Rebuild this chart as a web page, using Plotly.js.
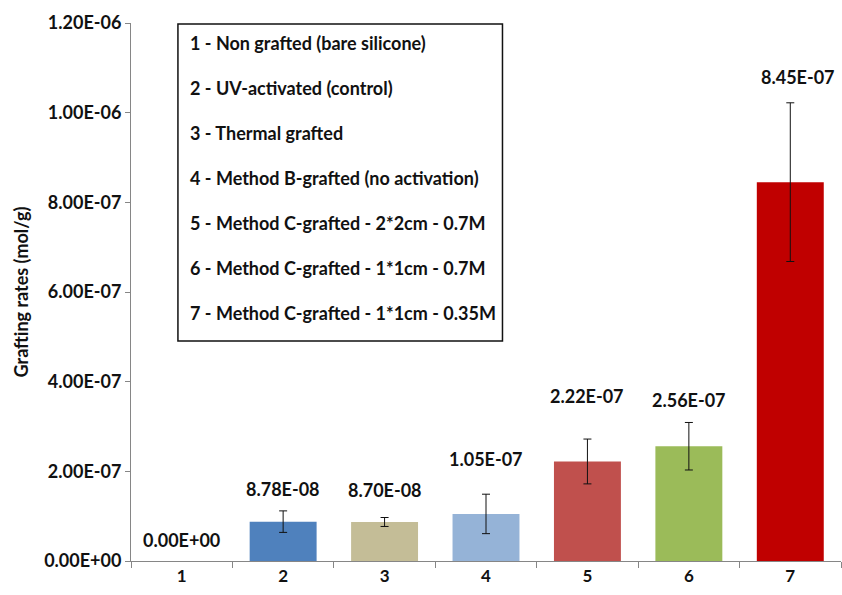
<!DOCTYPE html>
<html>
<head>
<meta charset="utf-8">
<script src="https://cdn.plot.ly/plotly-3.0.1.min.js"></script>
<style>html,body{margin:0;padding:0;background:#fff;}#chart{width:842px;height:595px;}</style>
</head>
<body>
<div id="chart"></div>
<script>
// ---- data ----
const categories = ['1', '2', '3', '4', '5', '6', '7'];
const values = [0, 8.78e-8, 8.70e-8, 1.05e-7, 2.22e-7, 2.56e-7, 8.45e-7];
const errors = [null, 2.4e-8, 1.0e-8, 4.4e-8, 5.0e-8, 5.3e-8, 1.77e-7];
const descriptions = [
  '1 - Non grafted (bare silicone)',
  '2 - UV-activated (control)',
  '3 - Thermal grafted',
  '4 - Method B-grafted (no activation)',
  '5 - Method C-grafted - 2*2cm - 0.7M',
  '6 - Method C-grafted - 1*1cm - 0.7M',
  '7 - Method C-grafted - 1*1cm - 0.35M'
];
const yTickVals = [0, 2e-7, 4e-7, 6e-7, 8e-7, 1e-6, 1.2e-6];

// ---- style ----
const barColors = ['#4F81BD', '#4F81BD', '#C4BD97', '#95B3D7', '#C0504D', '#9BBB59', '#C00000'];
const labelShift = [21, 22, 28, 35, 43, 22, 26];
const labelXShift = [0, 0, 0, 0, 0, 0, 8];
const FONT = 'Lato, "Open Sans", sans-serif';

function fmtE(v) {
  let s = v.toExponential(2).toUpperCase();
  return s.replace(/E([+-])(\d)$/, 'E$10$2');
}

const trace = {
  type: 'bar',
  x: categories,
  y: values,
  marker: { color: barColors, line: { width: 0 } },
  width: 0.66,
  error_y: { type: 'data', array: errors.map(e => (e === null ? NaN : e)), visible: true, color: '#111', thickness: 1, width: 4 },
  hoverinfo: 'none'
};

const annotations = [];
categories.forEach((c, i) => {
  annotations.push({
    x: i, xref: 'x', y: values[i] + (errors[i] || 0), yref: 'y',
    text: '<b>' + fmtE(values[i]) + '</b>', showarrow: false,
    yanchor: 'middle', yshift: labelShift[i], xshift: labelXShift[i],
    font: { family: FONT, size: 18, color: '#111' }
  });
});
// description box lines
const boxTop = 0.963, boxStep = 45 / 538;
descriptions.forEach((d, i) => {
  annotations.push({
    x: (188 - 131) / 711, xref: 'paper', xanchor: 'left',
    y: boxTop - i * boxStep, yref: 'paper', yanchor: 'middle',
    text: '<b>' + d + '</b>', showarrow: false,
    font: { family: FONT, size: 18, color: '#111' }
  });
});

const layout = {
  width: 842, height: 595,
  margin: { l: 131, r: 1, t: 23, b: 34 },
  paper_bgcolor: '#fff', plot_bgcolor: '#fff',
  showlegend: false,
  font: { family: FONT, color: '#111' },
  xaxis: {
    type: 'category',
    range: [-0.5, 6.5],
    tickson: 'boundaries', ticks: 'outside', ticklen: 6, tickcolor: '#868686',
    showline: true, linecolor: '#868686', linewidth: 1,
    showgrid: false, zeroline: false,
    tickfont: { family: FONT, size: 17, color: '#111', weight: 'bold' }
  },
  yaxis: {
    range: [0, 1.2e-6],
    tickvals: yTickVals, ticktext: yTickVals.map(v => fmtE(v)),
    ticks: 'outside', ticklen: 5, tickcolor: '#868686',
    showline: true, linecolor: '#868686', linewidth: 1,
    showgrid: false, zeroline: false,
    tickfont: { family: FONT, size: 18, color: '#111', weight: 'bold' },
    title: { text: 'Grafting rates (mol/g)', font: { family: FONT, size: 18, color: '#111', weight: 'bold' }, standoff: 10 }
  },
  shapes: [{
    type: 'rect', xref: 'paper', yref: 'paper',
    x0: (178 - 131) / 711, x1: (503 - 131) / 711,
    y0: (561 - 341) / 538, y1: (561 - 24) / 538,
    line: { color: '#111', width: 1.5 }, fillcolor: 'rgba(255,255,255,0)'
  }],
  annotations: annotations
};

Plotly.newPlot('chart', [trace], layout, { displayModeBar: false, staticPlot: true });
</script>
</body>
</html>
